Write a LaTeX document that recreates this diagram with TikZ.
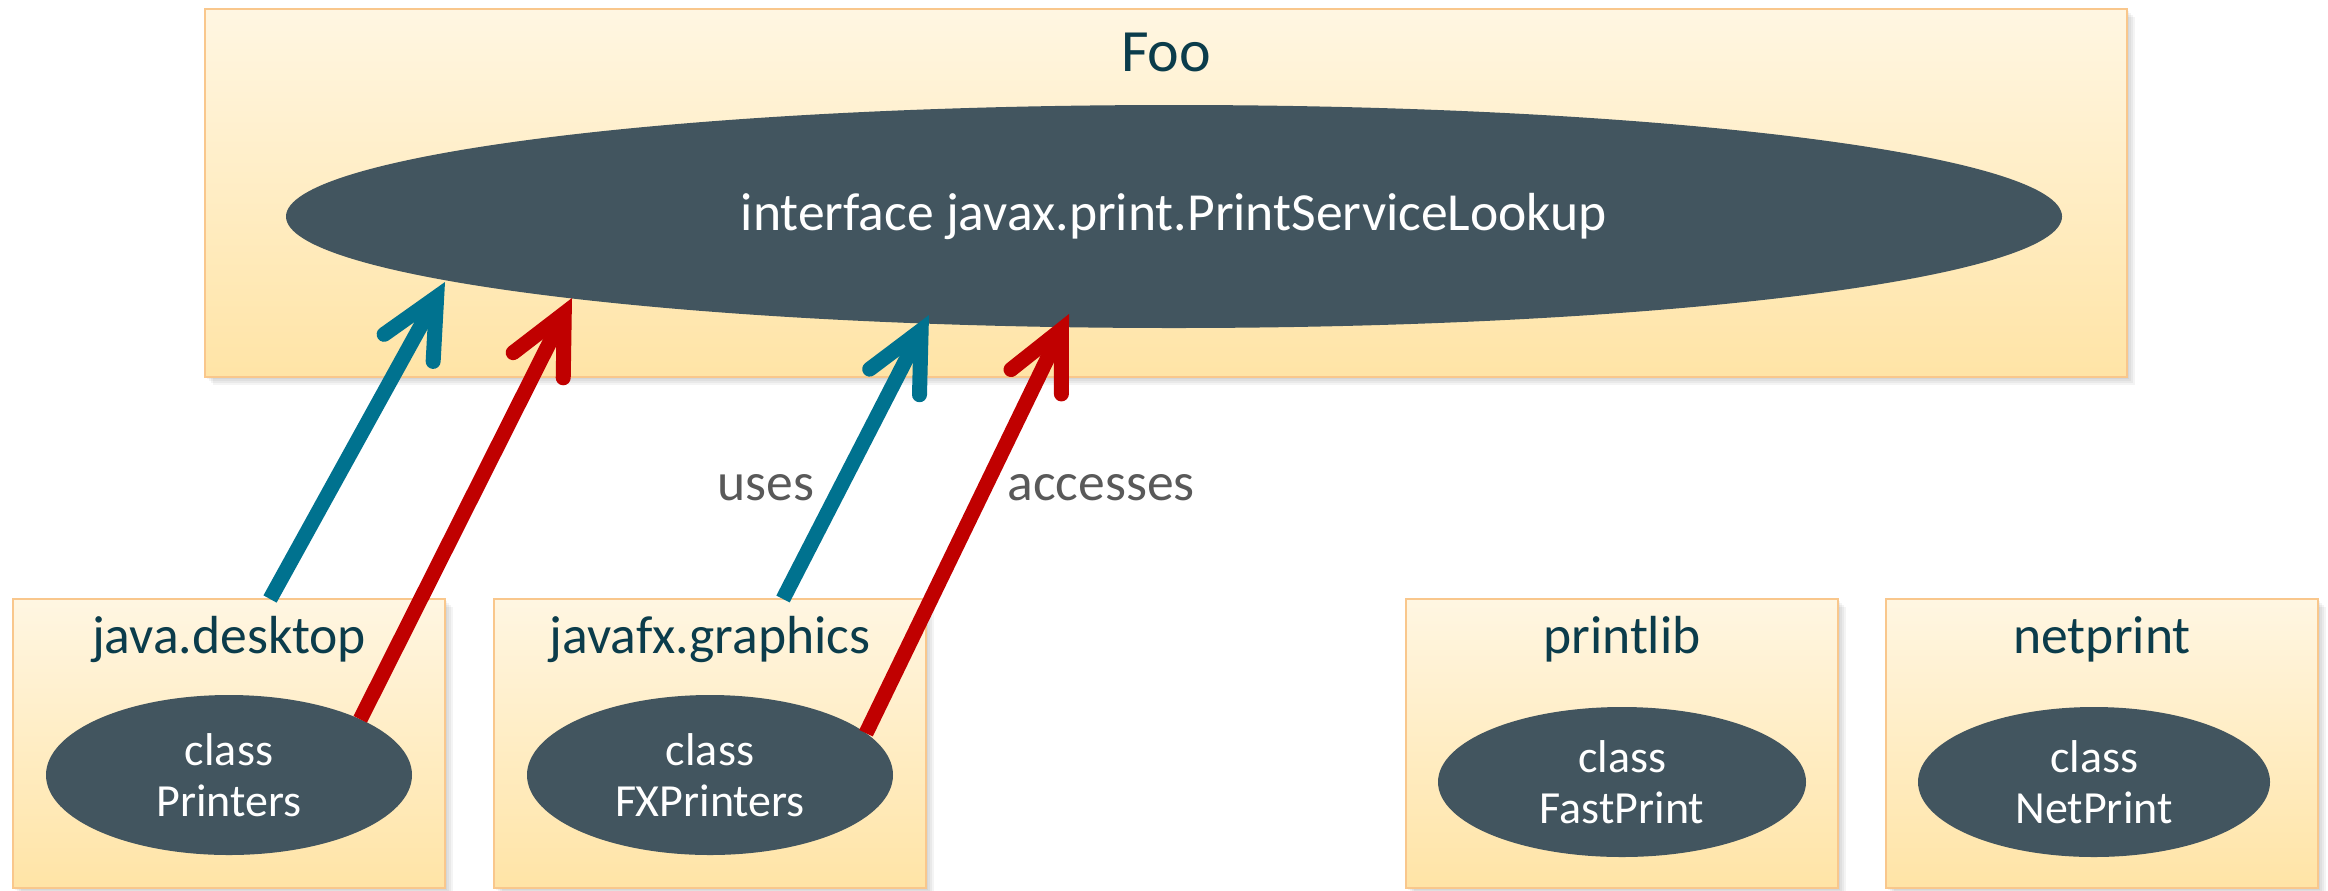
\documentclass[tikz,border=0pt]{standalone}
\usepackage{fontspec}
\setmainfont{Carlito}
\usetikzlibrary{arrows.meta,shapes.geometric,calc}
\definecolor{boxtop}{HTML}{FFF6E2}
\definecolor{boxbot}{HTML}{FFE4A6}
\definecolor{boxline}{HTML}{F9C78C}
\definecolor{ellfill}{HTML}{42555F}
\definecolor{ttl}{HTML}{0B3C4B}
\definecolor{lbl}{HTML}{595959}
\definecolor{ublue}{HTML}{00728F}
\definecolor{ared}{HTML}{C00000}
\newcommand\mkshadow[4]{%
  \foreach \d in {2,4,6,8}{\fill[black,opacity=0.045] (#1+\d,#2+\d) rectangle (#3+\d,#4+\d);}}
\begin{document}
\begin{tikzpicture}[x=0.5pt,y=-0.5pt,
  modbox/.style={rectangle, top color=boxtop, bottom color=boxbot, draw=boxline, line width=1.2pt, inner sep=0pt, outer sep=0pt},
  clsell/.style={ellipse, fill=ellfill, text=white, inner sep=0pt, outer sep=0pt, align=center, font=\fontsize{23}{25.5}\selectfont},
  ttext/.style={text=ttl, anchor=base, inner sep=0pt, font=\fontsize{26.8}{30}\selectfont},
  lbltext/.style={text=lbl, inner sep=0pt, font=\fontsize{26.8}{30}\selectfont},
  conn/.style={line width=7.5pt, line cap=butt, -{Straight Barb[length=29pt,width=28pt,line cap=round,line join=miter]}},
]
\useasboundingbox (0,0) rectangle (2328,890);
% shadows
\mkshadow{205}{9}{2127}{377}
\mkshadow{13}{599}{445}{888}
\mkshadow{494}{599}{926}{888}
\mkshadow{1406}{599}{1838}{888}
\mkshadow{1886}{599}{2318}{888}
% Foo module
\node[modbox, minimum width=961pt, minimum height=184pt] (foo) at (1166,193) {};
\node[ttext, font=\fontsize{30}{36}\selectfont] (footitle) at (1166,71) {Foo};
\node[ellipse, fill=ellfill, text=white, inner sep=0pt, outer sep=0pt, minimum width=888pt, minimum height=111.5pt, font=\fontsize{26.8}{30}\selectfont] (big) at (1174,216.5) {interface javax.print.PrintServiceLookup};
% lower modules
\node[modbox, minimum width=216pt, minimum height=144.5pt] (jd) at (229,743.5) {};
\node[modbox, minimum width=216pt, minimum height=144.5pt] (jfx) at (710,743.5) {};
\node[modbox, minimum width=216pt, minimum height=144.5pt] (pl) at (1622,743.5) {};
\node[modbox, minimum width=216pt, minimum height=144.5pt] (np) at (2102,743.5) {};
\node[ttext] (jdt) at (229,653) {java.desktop};
\node[ttext] (jfxt) at (710,653) {javafx.graphics};
\node[ttext] (plt) at (1622,653) {printlib};
\node[ttext] (npt) at (2102,653) {netprint};
\node[clsell, minimum width=183pt, minimum height=80pt] (prn) at (229,775) {class\\Printers};
\node[clsell, minimum width=183pt, minimum height=80pt] (fxp) at (710,775) {class\\FXPrinters};
\node[clsell, minimum width=184pt, minimum height=75pt] (fast) at (1622,782) {class\\FastPrint};
\node[clsell, minimum width=176pt, minimum height=75pt] (net) at (2094,782) {class\\NetPrint};
% labels
\node[lbltext, anchor=base] (uses) at (766,500) {uses};
\node[lbltext, anchor=base west] (acc) at (1007,500) {accesses};
% arrows
\coordinate (tipb1) at (445,282);
\coordinate (tipr1) at (572,298);
\coordinate (tipb2) at (929,315);
\coordinate (tipr2) at (1069,314);
\draw[conn, ublue] ($(jd.north west)!0.595!(jd.north east)$) -- (tipb1);
\draw[conn, ared] (prn.23.2) -- (tipr1);
\draw[conn, ublue] ($(jfx.north west)!0.669!(jfx.north east)$) -- (tipb2);
\draw[conn, ared] (fxp.15.7) -- (tipr2);
\end{tikzpicture}
\end{document}
